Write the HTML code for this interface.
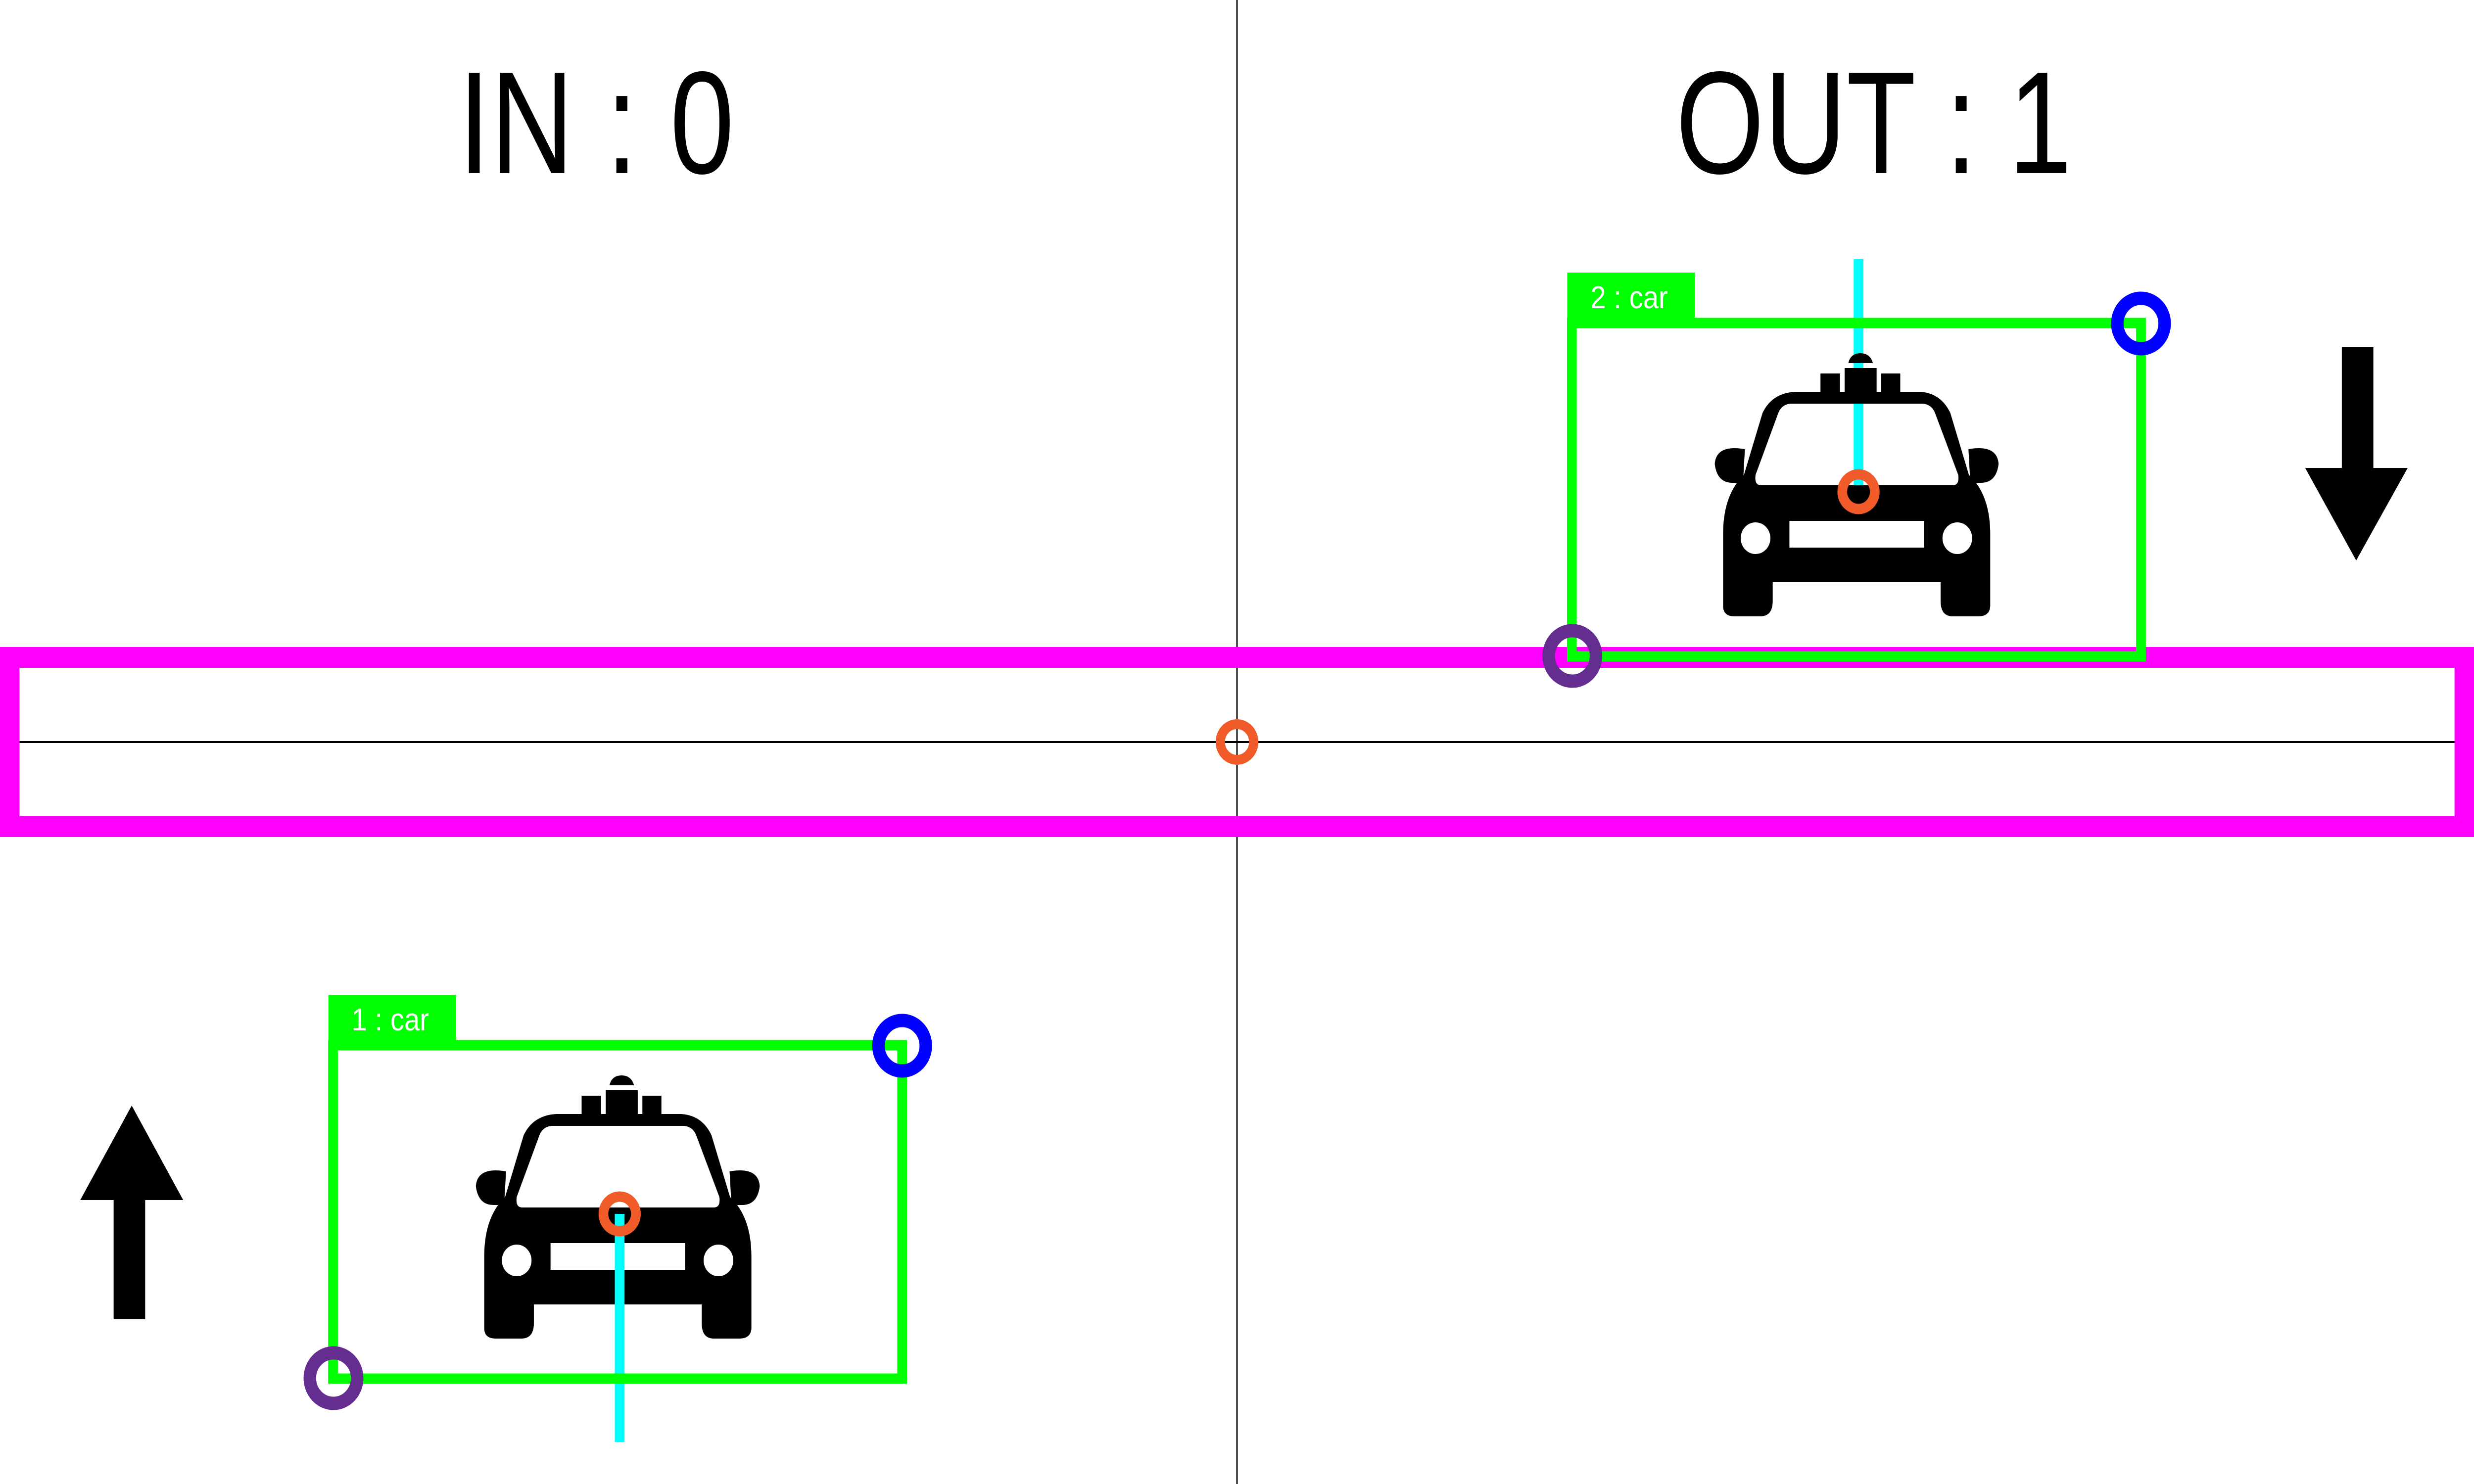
<!DOCTYPE html>
<html><head><meta charset="utf-8"><style>html,body{margin:0;padding:0;background:#fff;width:100%;height:100%;overflow:hidden}svg{display:block;width:100vw;height:100vh}</style></head>
<body>
<svg xmlns="http://www.w3.org/2000/svg" viewBox="0 0 5334 3000" preserveAspectRatio="none">
<defs>
<g id="car">
<path fill="#000" fill-rule="evenodd" d="M3870,792 L4140,792 Q4185,795 4205,835 L4245,960 Q4291,1000 4291,1080 L4291,1225 Q4290,1246 4265,1246 L4210,1246 Q4184,1246 4184,1215 L4184,1177 L3822,1177 L3822,1215 Q3822,1246 3795,1246 L3740,1246 Q3715,1246 3715,1225 L3715,1080 Q3715,1000 3760,960 L3800,835 Q3820,795 3870,792 Z M3860,816 L4146,816 Q4165,818 4172,835 L4222,960 Q4225,981 4210,981 L3797,981 Q3782,981 3785,960 L3834,835 Q3841,818 3860,816 Z"/>
<path fill="#000" d="M3762,908 Q3700,898 3697,938 Q3702,976 3735,976 L3758,976 Z M4244,908 Q4306,898 4309,938 Q4304,976 4271,976 L4248,976 Z"/>
<rect x="3925" y="755" width="42" height="40" fill="#000"/>
<rect x="3977" y="744" width="69" height="50" fill="#000"/>
<rect x="4056" y="755" width="41" height="40" fill="#000"/>
<path d="M3985,734 Q3990,714 4011,714 Q4032,714 4038,734 Z" fill="#000"/>
<circle cx="3785" cy="1088" r="32" fill="#fff"/>
<circle cx="4220" cy="1088" r="32" fill="#fff"/>
<rect x="3858" y="1053" width="290" height="54" fill="#fff"/>
</g>
</defs>

<line x1="2667" y1="0" x2="2667" y2="3000" stroke="#000" stroke-width="3"/>
<line x1="0" y1="1500" x2="5334" y2="1500" stroke="#000" stroke-width="4"/>
<rect x="21" y="1329" width="5292" height="342" fill="none" stroke="#ff00ff" stroke-width="42"/>
<circle cx="2667" cy="1500" r="36" fill="none" stroke="#f15a29" stroke-width="20"/>

<text x="988" y="350" font-family="Liberation Sans, sans-serif" font-size="295" textLength="595" lengthAdjust="spacingAndGlyphs" fill="#000">IN : 0</text>
<text x="3613" y="350" font-family="Liberation Sans, sans-serif" font-size="295" textLength="854" lengthAdjust="spacingAndGlyphs" fill="#000">OUT : 1</text>

<g>
<line x1="4007" y1="524" x2="4007" y2="994" stroke="#00ffff" stroke-width="21"/>
<use href="#car"/>
<rect x="3389" y="653" width="1227" height="674" fill="none" stroke="#00ff00" stroke-width="21"/>
<rect x="3379" y="551" width="275" height="94" fill="#00ff00"/>
<text x="3429" y="623" font-family="Liberation Sans, sans-serif" font-size="64" textLength="167" lengthAdjust="spacingAndGlyphs" fill="#fff">2 : car</text>
<circle cx="4007" cy="994" r="35" fill="none" stroke="#f15a29" stroke-width="21"/>
<circle cx="4616" cy="654" r="51" fill="none" stroke="#0000ff" stroke-width="27"/>
<circle cx="3390" cy="1326" r="51" fill="none" stroke="#662d91" stroke-width="27"/>
</g>

<g transform="translate(-2671,1460)">
<use href="#car"/>
<line x1="4007" y1="994" x2="4007" y2="1455" stroke="#00ffff" stroke-width="21"/>
<rect x="3389" y="653" width="1227" height="674" fill="none" stroke="#00ff00" stroke-width="21"/>
<rect x="3379" y="551" width="275" height="94" fill="#00ff00"/>
<text x="3429" y="623" font-family="Liberation Sans, sans-serif" font-size="64" textLength="167" lengthAdjust="spacingAndGlyphs" fill="#fff">1 : car</text>
<circle cx="4007" cy="994" r="35" fill="none" stroke="#f15a29" stroke-width="21"/>
<circle cx="4616" cy="654" r="51" fill="none" stroke="#0000ff" stroke-width="27"/>
<circle cx="3390" cy="1326" r="51" fill="none" stroke="#662d91" stroke-width="27"/>
</g>

<path d="M5049,701 L5117,701 L5117,946 L5191,946 L5080,1133 L4970,946 L5049,946 Z" fill="#000"/>
<path d="M245,2667 L313,2667 L313,2426 L395,2426 L284,2235 L173,2426 L245,2426 Z" fill="#000"/>
</svg>
</body></html>
